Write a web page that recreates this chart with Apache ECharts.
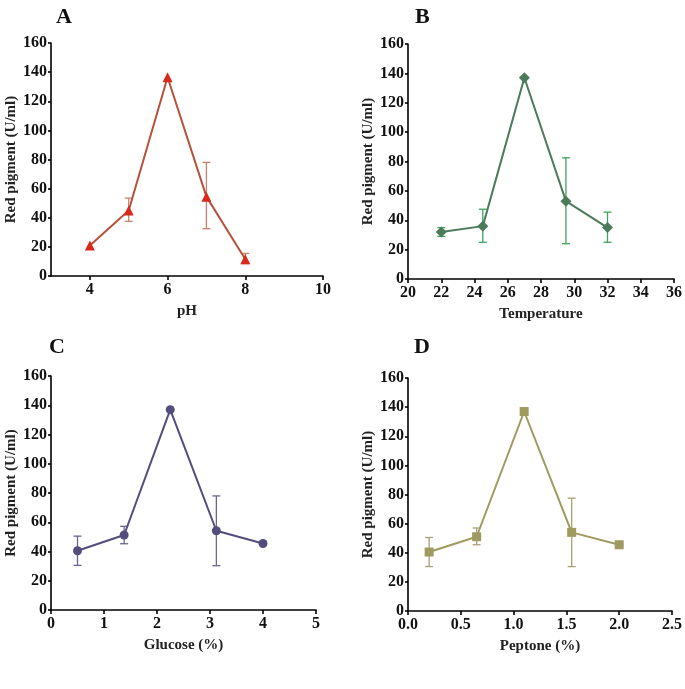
<!DOCTYPE html>
<html><head><meta charset="utf-8">
<script src="https://cdn.jsdelivr.net/npm/echarts@6/dist/echarts.min.js"></script>
<style>html,body{margin:0;padding:0;background:#fff}#c{width:685px;height:689px}</style>
</head><body><div id="c"></div>
<script>
// Panel A: pH
const phX = [4, 5, 6, 7, 8];
const phY = [21, 45, 136.5, 54.5, 11.5];
const phLow = [21, 37.5, 136.5, 32.5, 8.5];
const phHigh = [21, 53.5, 136.5, 78, 15.5];
// Panel B: Temperature
const tempX = [22, 24.5, 27, 29.5, 32];
const tempY = [32, 36, 137, 53, 35];
const tempLow = [29, 25, 137, 24, 25];
const tempHigh = [35, 47.5, 137, 82.5, 45.5];
// Panel C: Glucose
const gluX = [0.5, 1.38, 2.25, 3.12, 4];
const gluY = [40.5, 51.3, 137, 54.2, 45.5];
const gluLow = [30.5, 45.3, 137, 30.3, 45.5];
const gluHigh = [50.5, 57.2, 137, 78, 45.5];
// Panel D: Peptone
const pepX = [0.2, 0.65, 1.1, 1.55, 2.0];
const pepY = [40.5, 51, 137, 54, 45.5];
const pepLow = [30.5, 45.5, 137, 30.5, 45.5];
const pepHigh = [50.5, 57, 137, 77.5, 45.5];

const yTicks = [0, 20, 40, 60, 80, 100, 120, 140, 160];
const panelLetters = ['A', 'B', 'C', 'D'];
const xNames = ['pH', 'Temperature', 'Glucose (%)', 'Peptone (%)'];
const yName = 'Red pigment (U/ml)';

const FONT = '"Liberation Serif", "Times New Roman", serif';
const panels = [
  {x: phX, y: phY, lo: phLow, hi: phHigh, line: '#b5523c', mark: '#d8291b', err: '#c9806f', sym: 'triangle', size: 10,
   grid: {left: 51, top: 43, width: 272, height: 233}, xmin: 3, xmax: 10, xint: 1, xLabels: [4, 6, 8, 10]},
  {x: tempX, y: tempY, lo: tempLow, hi: tempHigh, line: '#4b7b59', mark: '#4b7b59', err: '#3ea35f', sym: 'diamond', size: 11,
   grid: {left: 408, top: 44, width: 269, height: 235}, xmin: 20, xmax: 36, xint: 2},
  {x: gluX, y: gluY, lo: gluLow, hi: gluHigh, line: '#524d7d', mark: '#524d7d', err: '#6a6590', sym: 'circle', size: 9,
   grid: {left: 51, top: 376, width: 265, height: 234}, xmin: 0, xmax: 5, xint: 1},
  {x: pepX, y: pepY, lo: pepLow, hi: pepHigh, line: '#a09a5f', mark: '#a09a5f', err: '#a8a272', sym: 'rect', size: 9,
   grid: {left: 408, top: 378, width: 266, height: 233}, xmin: 0, xmax: 2.5, xint: 0.5, dec: 1}
];
const letterPos = [[65, 17], [424, 17], [58, 347], [423, 347]];

const grids = [], xAxes = [], yAxes = [], series = [], graphics = [];
panels.forEach((p, i) => {
  grids.push(p.grid);
  const axisLine = {show: true, onZero: false, lineStyle: {color: '#000', width: 1.6}};
  const xa = {
    type: 'value', gridIndex: i, min: p.xmin, max: p.xmax, interval: p.xint,
    name: xNames[i], nameLocation: 'middle', nameGap: 28,
    nameTextStyle: {fontFamily: FONT, fontWeight: 'bold', fontSize: 15, color: '#222'},
    axisLine: axisLine, splitLine: {show: false},
    axisTick: {show: true, length: 4, lineStyle: {color: '#000', width: 1.6}},
    axisLabel: {fontFamily: FONT, fontWeight: 'bold', fontSize: 16, color: '#111', margin: 6,
      formatter: v => p.dec ? v.toFixed(p.dec) : String(v)}
  };
  if (p.xLabels) {
    xa.axisLabel.customValues = p.xLabels;
    xa.axisTick.customValues = p.xLabels;
  }
  xAxes.push(xa);
  yAxes.push({
    type: 'value', gridIndex: i, min: 0, max: 160, interval: 20,
    name: yName, nameLocation: 'middle', nameGap: 31, nameRotate: 90,
    nameTextStyle: {fontFamily: FONT, fontWeight: 'bold', fontSize: 15, color: '#222'},
    axisLine: axisLine, splitLine: {show: false},
    axisTick: {show: true, length: 3, lineStyle: {color: '#000', width: 1.6}},
    axisLabel: {fontFamily: FONT, fontWeight: 'bold', fontSize: 16, color: '#111', margin: 4}
  });
  const errData = p.x.map((xv, k) => [xv, p.lo[k], p.hi[k]]).filter(d => d[2] - d[1] > 0.01);
  series.push({
    type: 'custom', xAxisIndex: i, yAxisIndex: i, z: 1, data: errData,
    renderItem: (params, api) => {
      const x = api.value(0);
      const lo = api.coord([x, api.value(1)]);
      const hi = api.coord([x, api.value(2)]);
      const w = 4;
      const st = {stroke: p.err, lineWidth: 1.3};
      return {type: 'group', children: [
        {type: 'line', shape: {x1: lo[0], y1: lo[1], x2: hi[0], y2: hi[1]}, style: st},
        {type: 'line', shape: {x1: lo[0] - w, y1: lo[1], x2: lo[0] + w, y2: lo[1]}, style: st},
        {type: 'line', shape: {x1: hi[0] - w, y1: hi[1], x2: hi[0] + w, y2: hi[1]}, style: st}
      ]};
    }
  });
  series.push({
    type: 'line', xAxisIndex: i, yAxisIndex: i, z: 2,
    data: p.x.map((xv, k) => [xv, p.y[k]]),
    symbol: p.sym, symbolSize: p.size, showAllSymbol: true,
    lineStyle: {color: p.line, width: 2},
    itemStyle: {color: p.mark, borderWidth: 0},
    animation: false
  });
  graphics.push({
    type: 'text', left: letterPos[i][0] - 9, top: letterPos[i][1] - 11,
    style: {text: panelLetters[i], font: 'bold 22px ' + FONT, fill: '#111'}
  });
});

const chart = echarts.init(document.getElementById('c'));
chart.setOption({
  animation: false,
  backgroundColor: '#fff',
  grid: grids, xAxis: xAxes, yAxis: yAxes, series: series, graphic: graphics
});
</script></body></html>
